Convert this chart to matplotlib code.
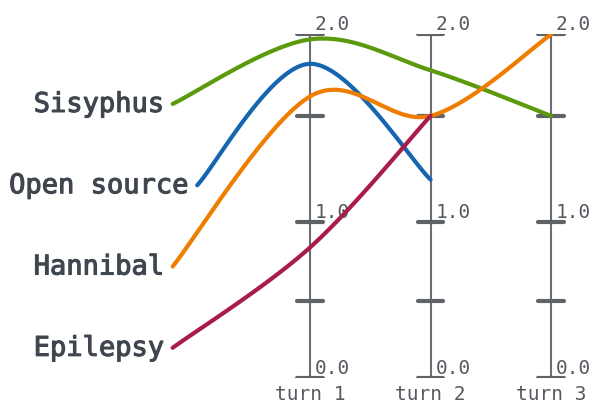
import numpy as np
import matplotlib.pyplot as plt
import matplotlib.patheffects as pe
from matplotlib.transforms import IdentityTransform, blended_transform_factory

# Data
series = ['Sisyphus', 'Open source', 'Hannibal', 'Epilepsy']
turns = ['turn 1', 'turn 2', 'turn 3']
sisyphus = [1.97, 1.78, 1.5]
open_source = [1.82, 1.2, np.nan]
hannibal = [1.62, 1.5, 2.0]
epilepsy = [0.84, 1.5, np.nan]
tick_values = [0.0, 0.5, 1.0, 1.5, 2.0]
tick_labels = ['0.0', '', '1.0', '', '2.0']

values = [sisyphus, open_source, hannibal, epilepsy]
colors = ['#5a9a0c', '#1565b0', '#ef7d00', '#a91b4b']

# the sketchy axes are not evenly spaced: value -> fraction of axis height
knot_vals = [-1.0, 0.0, 0.5, 1.0, 1.5, 2.0, 3.0]
knot_pos = [-0.454, 0.0, 0.223, 0.454, 0.763, 1.0, 1.474]


def fwd(v):
    return np.interp(v, knot_vals, knot_pos)


def inv(p):
    return np.interp(p, knot_pos, knot_vals)


def cardinal(pts, n=60):
    # catmull-rom through the points, ends duplicated
    p = np.vstack([pts[0], pts, pts[-1]])
    out = []
    t = np.linspace(0, 1, n)[:, None]
    for i in range(1, len(p) - 2):
        p0, p1, p2, p3 = p[i - 1], p[i], p[i + 1], p[i + 2]
        c1 = p1 + (p2 - p0) / 6
        c2 = p2 - (p3 - p1) / 6
        out.append((1 - t) ** 3 * p1 + 3 * (1 - t) ** 2 * t * c1
                   + 3 * (1 - t) * t ** 2 * c2 + t ** 3 * p2)
    return np.vstack(out)


fig = plt.figure(figsize=(6.06, 4.18), dpi=100)
ax = fig.add_axes([0, 40 / 418, 1, 343.5 / 418])
ax.set_xlim(-1.573, 3.456)
ax.set_yscale('function', functions=(fwd, inv))
ax.set_ylim(0, 2)
ax.axis('off')

mono = 'DejaVu Sans Mono'
axis_grey = '#6a6e74'
tick_grey = '#5f6368'
label_grey = '#555a61'
text_dark = '#3f4650'

# vertical turn axes
for i, name in enumerate(turns):
    x = i + 1
    ax.plot([x, x], [0, 2], color=axis_grey, lw=1.5, zorder=1)
    for v, lab in zip(tick_values, tick_labels):
        ax.plot([x - 0.105, x + 0.105], [v, v], color=tick_grey, lw=3,
                solid_capstyle='round', zorder=2)
        if lab:
            ax.annotate(lab, (x, v), xytext=(3.5, 3), textcoords='offset points',
                        ha='left', va='baseline', fontsize=14, family=mono,
                        color=label_grey)
    ax.annotate(name, (x, 0), xytext=(0, -5), textcoords='offset points',
                ha='center', va='top', fontsize=14, family=mono, color=label_grey)

# series names on the left (slightly heavier than regular)
row_y = np.linspace(0.795, 0.085, len(series))
blend = blended_transform_factory(ax.transData, ax.transAxes)
medium = [pe.Stroke(linewidth=0.8, foreground=text_dark), pe.Normal()]
texts = []
for name, y in zip(series, row_y):
    texts.append(ax.text(-0.75, y, name, transform=blend, ha='center',
                         va='center', fontsize=19.5, family=mono,
                         color=text_dark, path_effects=medium))

fig.canvas.draw()

for txt, y, vals, c in zip(texts, row_y, values, colors):
    bb = txt.get_window_extent()
    start = np.array([bb.x1 + 8, blend.transform((0, y))[1] + 1])
    pts = [start]
    for i, v in enumerate(vals):
        if not np.isnan(v):
            pts.append(ax.transData.transform((i + 1, v)))
    curve = cardinal(np.array(pts))
    ax.plot(curve[:, 0], curve[:, 1], transform=IdentityTransform(), color=c,
            lw=3, solid_capstyle='round', zorder=3)

fig.savefig('out.png', dpi=100)
